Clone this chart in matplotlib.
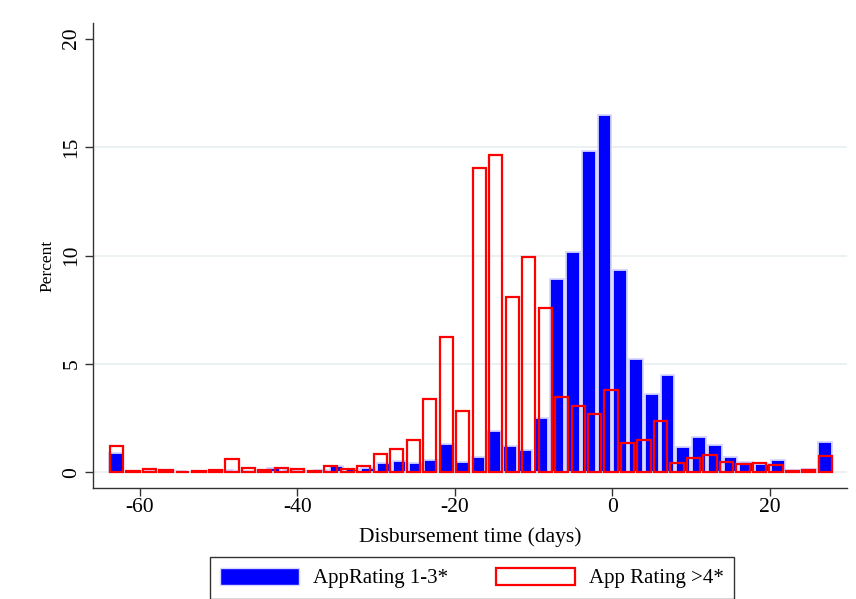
import matplotlib
matplotlib.use("Agg")
import matplotlib.pyplot as plt
import numpy as np
from matplotlib.patches import Patch

plt.rcParams['font.family'] = ['Liberation Serif', 'DejaVu Serif']
plt.rcParams['axes.unicode_minus'] = False

# percent of loans per bin, AppRating 1-3* (2-day bins, -64 .. 28)
blue_pct = [0.90, 0.02, 0.05, 0.03, 0.08, 0.02, 0.05, 0.10, 0.05, 0.05,
            0.18, 0.10, 0.05, 0.10, 0.28, 0.17, 0.20, 0.44, 0.53, 0.45,
            0.57, 1.30, 0.47, 0.69, 1.92, 1.21, 1.04, 2.49, 8.91, 10.17,
            14.80, 16.47, 9.35, 5.25, 3.61, 4.48, 1.18, 1.61, 1.26, 0.72,
            0.49, 0.38, 0.57, 0.10, 0.17, 1.38]
blue_range = (-64, 28)

# percent of loans per bin, App Rating >4* (44 bins, -64 .. 28.1)
red_pct = [1.20, 0.07, 0.15, 0.10, 0.03, 0.07, 0.12, 0.60, 0.18, 0.10,
           0.20, 0.14, 0.06, 0.29, 0.14, 0.31, 0.83, 1.07, 1.50, 3.37,
           6.25, 2.84, 14.04, 14.62, 8.09, 9.91, 7.60, 3.48, 3.06, 2.67,
           3.79, 1.37, 1.49, 2.38, 0.44, 0.67, 0.80, 0.49, 0.37, 0.44,
           0.32, 0.07, 0.13, 0.75]
red_range = (-64, 28.1)

labels = ["AppRating 1-3*", "App Rating >4*"]
xticks = [-60, -40, -20, 0, 20]
yticks = [0, 5, 10, 15, 20]


def bin_centers(rng, n):
    edges = np.linspace(rng[0], rng[1], n + 1)
    return (edges[:-1] + edges[1:]) / 2, edges[1] - edges[0]


blue_x, blue_w = bin_centers(blue_range, len(blue_pct))
red_x, red_w = bin_centers(red_range, len(red_pct))

fig = plt.figure(figsize=(8.56, 5.99), dpi=100)
ax = fig.add_axes([0.109, 0.1853, 0.8805, 0.7763])

for y in yticks[:-1]:
    ax.axhline(y, color="#e6eef0", lw=1.1, zorder=0)

ax.bar(blue_x, blue_pct, width=blue_w * 0.865, color="#0000ff",
       edgecolor="#d6d6ff", linewidth=1.3, zorder=2)
ax.bar(red_x, red_pct, width=red_w * 0.80, color="none",
       edgecolor="#ff0000", linewidth=1.6, zorder=3)

ax.set_xlim(-65.9, 29.8)
ax.set_ylim(-0.72, 20.72)
ax.set_xticks(xticks)
ax.set_yticks(yticks)
ax.tick_params(axis="both", direction="out", length=5.5, width=1.0,
               color="#333333", labelsize=15.5)
ax.tick_params(axis="x", pad=2)
ax.tick_params(axis="y", pad=3)
for lab in ax.get_yticklabels():
    lab.set_rotation(90)
    lab.set_va("center")

for side in ["top", "right"]:
    ax.spines[side].set_visible(False)
for side in ["left", "bottom"]:
    ax.spines[side].set_color("#333333")
    ax.spines[side].set_linewidth(1.0)

fig.text(470 / 856, 1 - 537 / 599, "Disbursement time (days)",
         ha="center", va="center", fontsize=15.5)
fig.text(47 / 856, 1 - 266 / 599, "Percent", ha="center", va="center",
         rotation=90, fontsize=12.5)

handles = [Patch(facecolor="#0000ff", edgecolor="#d6d6ff", linewidth=1.0),
           Patch(facecolor="white", edgecolor="#ff0000", linewidth=1.6)]
leg = fig.legend(handles, labels, loc="center", ncol=2,
                 bbox_to_anchor=(472 / 856, 1 - 578 / 599),
                 fontsize=15, handlelength=3.8, handleheight=0.9,
                 handletextpad=0.65, columnspacing=2.3, borderpad=0.5,
                 fancybox=False, framealpha=1)
leg.get_frame().set_edgecolor("#333333")
leg.get_frame().set_linewidth(1.0)

fig.savefig("out.png", dpi=100)
